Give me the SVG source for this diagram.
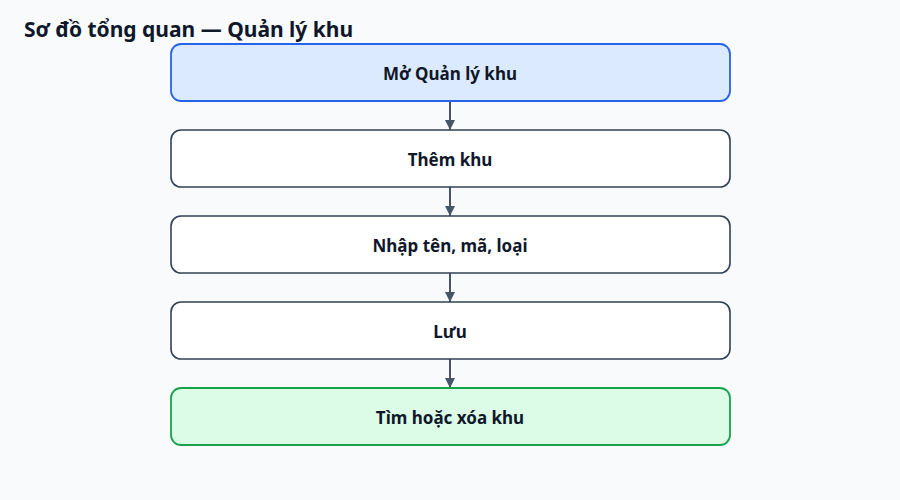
<svg xmlns="http://www.w3.org/2000/svg" width="900" height="500" viewBox="0 0 900 500">
<style>
.t{font-family:"Noto Sans","Open Sans","DejaVu Sans",sans-serif;font-weight:700;fill:#0f172a}
.lbl{font-size:17px;text-anchor:middle;dominant-baseline:central}
.box{fill:#ffffff;stroke:#334155;stroke-width:1.6}
.start{fill:#dbeafe;stroke:#2563eb;stroke-width:1.8}
.end{fill:#dcfce7;stroke:#16a34a;stroke-width:1.8}
.edge{stroke:#475569;stroke-width:2;fill:none}
</style>
<defs>
<marker id="ah" viewBox="0 0 10 10" refX="10" refY="5" markerWidth="10" markerHeight="10" markerUnits="userSpaceOnUse" orient="auto">
<path d="M0,0 L10,5 L0,10 z" fill="#475569"/>
</marker>
</defs>
<rect width="900" height="500" fill="#f8fafc"/>
<text class="t" x="24" y="37" font-size="21">Sơ đồ tổng quan — Quản lý khu</text>
<g id="connectors">
<line class="edge" x1="450" y1="101" x2="450" y2="130" marker-end="url(#ah)"/>
<line class="edge" x1="450" y1="187" x2="450" y2="216" marker-end="url(#ah)"/>
<line class="edge" x1="450" y1="273" x2="450" y2="302" marker-end="url(#ah)"/>
<line class="edge" x1="450" y1="359" x2="450" y2="388" marker-end="url(#ah)"/>
</g>
<g id="n1"><rect class="box start" x="171" y="44" width="559" height="57" rx="10"/><text class="t lbl" x="450" y="73">Mở Quản lý khu</text></g>
<g id="n2"><rect class="box" x="171" y="130" width="559" height="57" rx="10"/><text class="t lbl" x="450" y="159">Thêm khu</text></g>
<g id="n3"><rect class="box" x="171" y="216" width="559" height="57" rx="10"/><text class="t lbl" x="450" y="245">Nhập tên, mã, loại</text></g>
<g id="n4"><rect class="box" x="171" y="302" width="559" height="57" rx="10"/><text class="t lbl" x="450" y="331">Lưu</text></g>
<g id="n5"><rect class="box end" x="171" y="388" width="559" height="57" rx="10"/><text class="t lbl" x="450" y="417">Tìm hoặc xóa khu</text></g>
</svg>
